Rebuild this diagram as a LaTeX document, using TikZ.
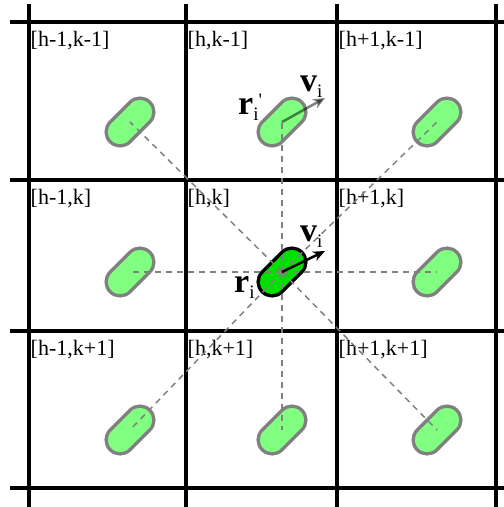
\documentclass[tikz,border=0pt]{standalone}
\usepackage{fontspec}
\setmainfont{Liberation Serif}
\usetikzlibrary{arrows.meta}

\definecolor{imggreen}{RGB}{128,255,128}
\definecolor{origgreen}{RGB}{0,224,0}
\newcommand{\subidx}{\raisebox{-6pt}{\fontsize{19}{19}\selectfont\mdseries i}}
\newcommand{\primemark}{\raisebox{8pt}{\fontsize{19}{19}\selectfont\mdseries\textquotesingle}}

\begin{document}
\begin{tikzpicture}[x=1pt, y=-1pt,
  gridline/.style={line width=3.2pt},
  cell/.style={anchor=base west, inner sep=0pt, font=\fontsize{22}{24}\selectfont},
  img/.style={draw=gray, line width=3.3pt, fill=imggreen, rectangle, rounded corners=14pt, minimum width=56pt, minimum height=28pt, inner sep=0pt, rotate=45},
  orig/.style={img, draw=black},
  link/.style={gray, line width=1.5pt, dash pattern=on 6pt off 5pt},
  vel/.style={-{Stealth[length=12pt, width=10pt]}, line width=2.5pt},
  sym/.style={anchor=base west, inner sep=0pt, font=\fontsize{34}{36}\selectfont\bfseries}]
\useasboundingbox (0,0) rectangle (504,507);
% ---- periodic grid of cells
\foreach \x in {29,186,337,496} \draw[gridline] (\x,4) -- (\x,510);
\foreach \y in {22,180,331,488} \draw[gridline] (10,\y) -- (510,\y);
\foreach \i/\x/\h in {0/29/h-1,1/186/h,2/337/h+1}
  \foreach \j/\y/\k in {0/22/k-1,1/180/k,2/331/k+1}
    \node[cell] (lbl\i\j) at (\x+1.5,\y+24) {[\h,\k]};
% ---- periodic images of particle i
\node[img] (p00) at (130,122) {};
\node[img] (p10) at (282,122) {};
\node[img] (p20) at (437,122) {};
\node[img] (p01) at (130,272) {};
\node[img] (p21) at (437,272) {};
\node[img] (p02) at (130,430) {};
\node[img] (p12) at (282,430) {};
\node[img] (p22) at (437,430) {};
\node[orig, fill=origgreen] (c) at (282,272) {};
% ---- links to the images
\foreach \n in {p00,p10,p20,p01,p21,p02,p12,p22} \draw[link] (c.center) -- (\n.center);
% ---- velocities
\coordinate (vtip) at (325,251);
\coordinate (vtipimg) at (325,98);
\draw[vel] (c.center) -- (vtip);
\draw[vel, opacity=0.5] (p10.center) -- (vtipimg);
\node[sym] (vlbl) at (300,241) {v\subidx};
\node[sym] (rlbl) at (234,292) {r\subidx};
\node[sym] (vlblimg) at (300,91) {v\subidx};
\node[sym] (rlblimg) at (238,114) {r\subidx\primemark};
\end{tikzpicture}
\end{document}
